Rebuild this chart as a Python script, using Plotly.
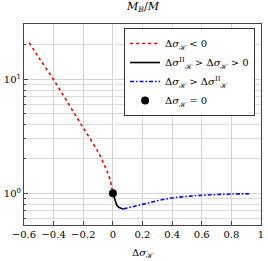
import plotly.graph_objects as go

# Data
neg_x = [-0.565, -0.5, -0.4, -0.3, -0.2, -0.1, -0.05, -0.02, 0.0]
neg_y = [21.0, 15.5, 9.9, 6.1, 3.75, 2.3, 1.68, 1.33, 1.0]

mid_x = [0.0, 0.007, 0.013, 0.02, 0.026, 0.035, 0.045, 0.055, 0.065, 0.072]
mid_y = [1.0, 0.94, 0.89, 0.83, 0.79, 0.765, 0.748, 0.738, 0.732, 0.73]

pos_x = [0.072, 0.1, 0.2, 0.3, 0.4, 0.5, 0.6, 0.7, 0.8, 0.92]
pos_y = [0.73, 0.745, 0.80, 0.86, 0.91, 0.94, 0.96, 0.975, 0.985, 0.99]

pt_x = [0.0]
pt_y = [1.0]

x_ticks = [-0.6, -0.4, -0.2, 0, 0.2, 0.4, 0.6, 0.8, 1]
x_tick_text = ["−0.6", "−0.4", "−0.2", "0", "0.2", "0.4", "0.6", "0.8", "1"]
y_major = [1, 10]
y_major_text = ["10<sup>0</sup>", "10<sup>1</sup>"]
y_minor = [0.6, 0.7, 0.8, 0.9, 2, 3, 4, 5, 6, 7, 8, 9, 20, 30]

H = "ℋ"
lab_neg = f"Δ<i>σ</i><sub>{H}</sub> &lt; 0"
lab_mid = f"Δ<i>σ</i><sup>II</sup><sub>{H}</sub> &gt; Δ<i>σ</i><sub>{H}</sub> &gt; 0"
lab_pos = f"Δ<i>σ</i><sub>{H}</sub> &gt; Δ<i>σ</i><sup>II</sup><sub>{H}</sub>"
lab_pt = f"Δ<i>σ</i><sub>{H}</sub> = 0"
title_text = "<i>M</i><sub><i>B</i></sub>/<i>M</i>"
xlabel_text = f"Δ<i>σ</i><sub>{H}</sub>"

FONT = "DejaVu Serif, Liberation Serif, serif"

fig = go.Figure()
fig.add_trace(go.Scatter(x=neg_x, y=neg_y, mode="lines", name=lab_neg,
                         line=dict(color="red", width=1.6, dash="3px,3px",
                                   shape="spline")))
fig.add_trace(go.Scatter(x=mid_x, y=mid_y, mode="lines", name=lab_mid,
                         line=dict(color="black", width=1.6, shape="spline")))
fig.add_trace(go.Scatter(x=pos_x, y=pos_y, mode="lines", name=lab_pos,
                         line=dict(color="blue", width=1.6,
                                   dash="4px,2px,1.5px,2px", shape="spline")))
fig.add_trace(go.Scatter(x=pt_x, y=pt_y, mode="markers", name=lab_pt,
                         marker=dict(color="black", size=8)))

fig.update_layout(
    width=268, height=261,
    margin=dict(l=22, r=4, t=24, b=36),
    paper_bgcolor="white", plot_bgcolor="white",
    font=dict(family=FONT, size=10, color="black"),
    legend=dict(x=0.975, y=0.98, xanchor="right", yanchor="top",
                bordercolor="#333333", borderwidth=1, bgcolor="white",
                font=dict(family=FONT, size=10), itemwidth=30,
                tracegroupgap=0),
    showlegend=True,
    annotations=[
        dict(text=title_text, xref="paper", yref="paper", x=0.5, y=1,
             xanchor="center", yanchor="middle", yshift=17, showarrow=False,
             font=dict(family=FONT, size=11)),
        dict(text=xlabel_text, xref="paper", yref="paper", x=0.5, y=0,
             xanchor="center", yanchor="middle", yshift=-28, showarrow=False,
             font=dict(family=FONT, size=10)),
    ],
)
fig.update_xaxes(
    range=[-0.6, 1.0], tickvals=x_ticks, ticktext=x_tick_text,
    ticklabeloverflow="allow",
    showgrid=True, gridcolor="#d4d4d4",
    gridwidth=1, zeroline=False, showline=True, linecolor="#444444",
    linewidth=1, mirror=True, ticks="inside", ticklen=4, tickcolor="#444444",
    tickfont=dict(family=FONT, size=10),
)
fig.update_yaxes(
    type="log", range=[-0.278, 1.485], tickvals=y_major, ticktext=y_major_text,
    showgrid=True, gridcolor="#d4d4d4", gridwidth=1, zeroline=False,
    showline=True, linecolor="#444444", linewidth=1, mirror=True,
    ticks="inside", ticklen=4, tickcolor="#444444",
    tickfont=dict(family=FONT, size=10),
    minor=dict(tickvals=y_minor, showgrid=True, gridcolor="#dcdcdc",
               gridwidth=1, ticks="inside", ticklen=2, tickcolor="#444444"),
)

fig.write_html("out.html", config={"displayModeBar": False},
               post_script="document.body.style.margin='0px';")
